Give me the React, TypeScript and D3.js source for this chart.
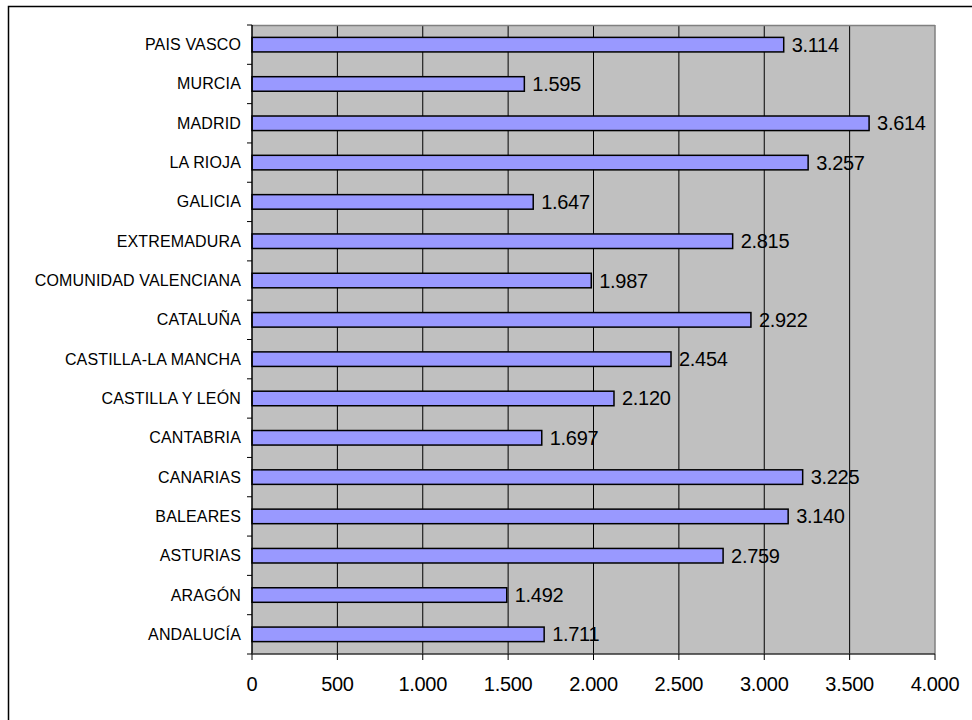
import React from "react";
import * as d3 from "d3";

const categories = [
  "PAIS VASCO", "MURCIA", "MADRID", "LA RIOJA", "GALICIA", "EXTREMADURA",
  "COMUNIDAD VALENCIANA", "CATALUÑA", "CASTILLA-LA MANCHA", "CASTILLA Y LEÓN",
  "CANTABRIA", "CANARIAS", "BALEARES", "ASTURIAS", "ARAGÓN", "ANDALUCÍA",
];
const values = [3114, 1595, 3614, 3257, 1647, 2815, 1987, 2922, 2454, 2120, 1697, 3225, 3140, 2759, 1492, 1711];
const xTicks = [0, 500, 1000, 1500, 2000, 2500, 3000, 3500, 4000];

const W = 972, H = 720;
const left = 252, right = 935, top = 25, bottom = 654;

const fmt = (v: number) => d3.format(",")(v).replace(/,/g, ".");

export default function App() {
  const x = d3.scaleLinear().domain([0, 4000]).range([left, right]);
  const y = d3.scaleBand<string>().domain(categories).range([top, bottom]).paddingInner(0.63).paddingOuter(0.315);
  const band = (bottom - top) / categories.length;
  const font = "'Liberation Sans', Arial, sans-serif";
  return (
    <svg width={W} height={H} style={{ position: "absolute", left: 0, top: 0, background: "#fff" }}>
      <rect x={8.5} y={6.5} width={980} height={740} fill="#fff" stroke="#000" strokeWidth={1.5} />
      <rect x={left} y={top} width={right - left} height={bottom - top} fill="#C0C0C0" />
      {xTicks.slice(1, -1).map((t) => (
        <line key={t} x1={x(t)} x2={x(t)} y1={top} y2={bottom} stroke="#000" strokeWidth={1} />
      ))}
      <line x1={left} x2={right} y1={top + 0.5} y2={top + 0.5} stroke="#808080" strokeWidth={1.5} />
      <line x1={right} x2={right} y1={top} y2={bottom} stroke="#808080" strokeWidth={1.5} />
      {categories.map((c, i) => {
        const by = y(c)!;
        const bh = y.bandwidth();
        const v = values[i];
        return (
          <g key={c}>
            <rect x={x(0)} y={by} width={x(v) - x(0)} height={bh} fill="#9999FF" stroke="#000" strokeWidth={1.5} />
            <text x={x(v) + 8} y={by + bh / 2 + 7} fontFamily={font} fontSize={20} letterSpacing={-0.3} fill="#000">{fmt(v)}</text>
            <text x={241} y={by + bh / 2 + 5.5} fontFamily={font} fontSize={16} letterSpacing={0.15} textAnchor="end" fill="#000">{c}</text>
          </g>
        );
      })}
      {d3.range(categories.length + 1).map((k) => (
        <line key={k} x1={left - 5} x2={left} y1={top + k * band} y2={top + k * band} stroke="#000" strokeWidth={1} />
      ))}
      <line x1={left} x2={left} y1={top} y2={bottom} stroke="#000" strokeWidth={1.5} />
      <line x1={left} x2={right} y1={bottom} y2={bottom} stroke="#333" strokeWidth={1.5} />
      {xTicks.map((t) => (
        <g key={t}>
          <line x1={x(t)} x2={x(t)} y1={bottom} y2={bottom + 6} stroke="#000" strokeWidth={1} />
          <text x={x(t)} y={691} fontFamily={font} fontSize={20} letterSpacing={-0.3} textAnchor="middle" fill="#000">{fmt(t)}</text>
        </g>
      ))}
    </svg>
  );
}
